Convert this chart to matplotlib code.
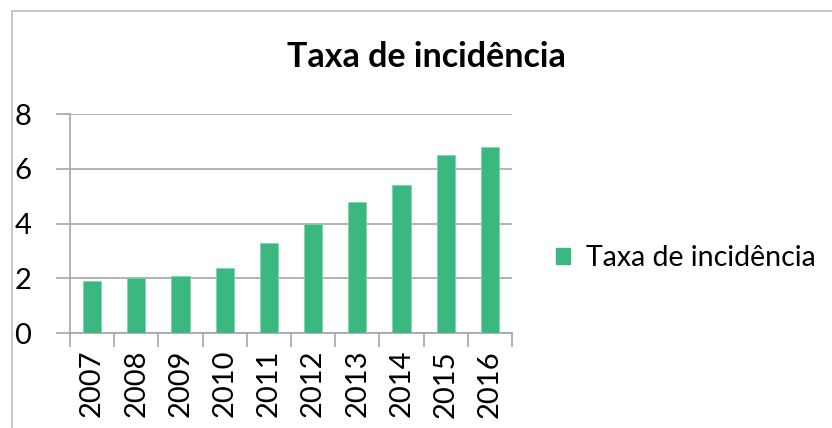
import matplotlib
matplotlib.use("Agg")
import matplotlib.pyplot as plt
from matplotlib.patches import Rectangle, Patch
import numpy as np

years = ["2007", "2008", "2009", "2010", "2011", "2012", "2013", "2014", "2015", "2016"]
taxa = [1.9, 2.0, 2.1, 2.4, 3.3, 4.0, 4.8, 5.4, 6.5, 6.8]
series_name = "Taxa de incidência"
title = "Taxa de incidência"

bar_color = "#3BB780"
grid_color = "#A6A6A6"

plt.rcParams['font.family'] = ['Lato', 'DejaVu Sans']

W, H = 832, 428
fig = plt.figure(figsize=(W / 100, H / 100), dpi=100)

# chart frame (light grey, left/top edges visible)
fig.patches.append(Rectangle((12 / W, -0.1), 1.2, 1 - 11 / H + 0.1,
                             transform=fig.transFigure, fill=False,
                             edgecolor="#BFBFBF", linewidth=1.2))

ax = fig.add_axes([70 / W, 1 - 333.3 / H, (512 - 70) / W, (333.3 - 114) / H])

x = np.arange(len(years))
ax.bar(x, taxa, width=0.41, color=bar_color, edgecolor="#7FD3AC",
       linewidth=0.6, zorder=3)

ax.set_xlim(-0.5, len(years) - 0.5)
ax.set_ylim(0, 8)
ax.set_yticks([0, 2, 4, 6, 8])
ax.yaxis.grid(True, color=grid_color, linewidth=1.2, zorder=0)

# tick marks at category boundaries, labels in the middle
ax.set_xticks(np.arange(-0.5, len(years), 1.0))
ax.set_xticklabels([])
ax.set_xticks(x, minor=True)
ax.set_xticklabels(years, minor=True, rotation=90, fontsize=21)
ax.tick_params(axis="x", which="major", direction="out", length=10,
               color=grid_color, width=1.2)
ax.tick_params(axis="x", which="minor", length=0, pad=12)
ax.tick_params(axis="y", direction="out", length=10, color=grid_color,
               width=1.2, labelsize=21, pad=18)

for s in ["top", "right"]:
    ax.spines[s].set_visible(False)
for s in ["left", "bottom"]:
    ax.spines[s].set_color(grid_color)
    ax.spines[s].set_linewidth(1.2)

fig.text(426 / W, 1 - 57 / H, title, ha="center", va="center",
         fontsize=24.5, fontweight="bold")

fig.legend(handles=[Patch(facecolor=bar_color, edgecolor=bar_color)],
           labels=[series_name], loc="center left",
           bbox_to_anchor=(556 / W, 1 - 258 / H), frameon=False,
           fontsize=20.5, handlelength=0.5, handleheight=0.5,
           handletextpad=0.55, borderpad=0, borderaxespad=0)

fig.savefig("out.png", dpi=100)
